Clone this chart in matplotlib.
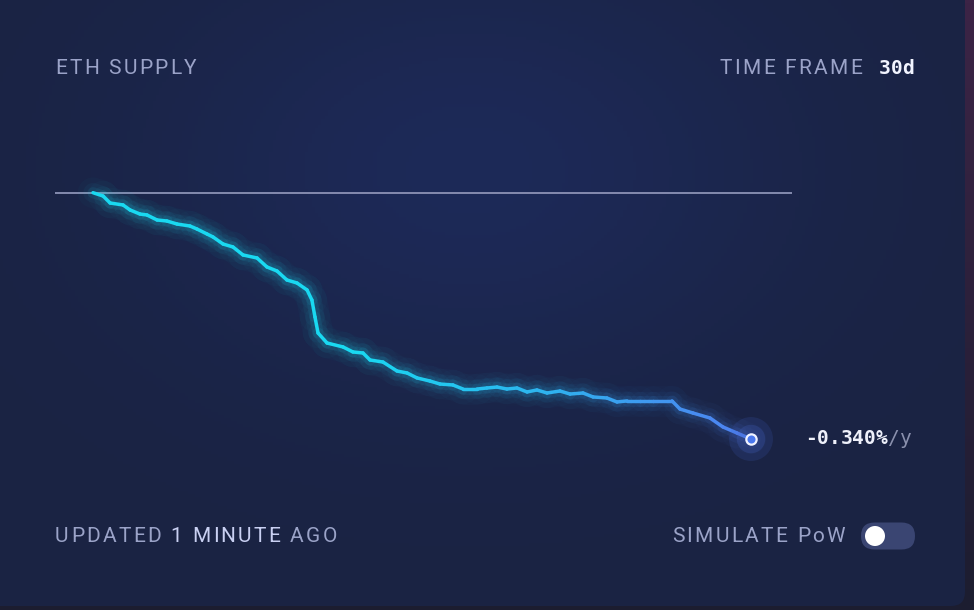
import numpy as np
import matplotlib
matplotlib.use("Agg")
import matplotlib.pyplot as plt
from matplotlib.collections import LineCollection
from matplotlib.patches import FancyBboxPatch, Circle
from matplotlib.font_manager import FontProperties
from matplotlib.colors import to_rgb

# ---------------- data ----------------
days = [0.00, 0.46, 0.78, 1.37, 1.69, 2.14, 2.46, 2.92, 3.37, 3.83, 4.42, 4.74,
        5.20, 5.47, 5.93, 6.38, 6.84, 7.48, 7.93, 8.39, 8.84, 9.30, 9.76, 9.98,
        10.12, 10.26, 10.67, 11.40, 11.85, 12.31, 12.63, 13.22, 13.86, 14.32,
        14.77, 15.36, 15.82, 16.41, 16.87, 17.51, 17.96, 18.42, 18.87, 19.33,
        19.79, 20.24, 20.70, 21.29, 21.75, 22.34, 22.80, 23.43, 23.89, 24.35,
        24.94, 25.53, 26.40, 26.76, 27.35, 28.13, 28.72, 29.36, 30.00]
supply_change = [0, -450, -1400, -1670, -2350, -2900, -3030, -3710, -3850, -4260,
                 -4530, -4940, -5620, -6020, -6980, -7380, -8470, -8880, -10100,
                 -10650, -11870, -12280, -13230, -14590, -16900, -19080, -20440,
                 -20980, -21660, -21800, -22750, -23030, -24250, -24520, -25190,
                 -25610, -26020, -26150, -26700, -26700, -26560, -26430, -26700,
                 -26560, -27100, -26830, -27240, -26970, -27380, -27240, -27780,
                 -27920, -28460, -28320, -28320, -28320, -28320, -29420, -29960,
                 -30640, -31860, -32680, -33500]
baseline_value = 0
baseline_range = [-1.73, 31.87]

title_text = "ETH SUPPLY"
timeframe_label = "TIME FRAME"
timeframe_value = "30d"
rate_value = "-0.340%"
rate_unit = "/y"
updated_parts = ["UPDATED ", "1 MINUTE", " AGO"]
simulate_label = "SIMULATE PoW"

# ---------------- figure ----------------
W, H = 974, 610
fig = plt.figure(figsize=(W / 100, H / 100), dpi=100)
fig.patch.set_facecolor("#1c1a2c")

bg = fig.add_axes([0, 0, 1, 1])
bg.set_xlim(0, W)
bg.set_ylim(H, 0)
bg.axis("off")

# outside region (purple strip at right)
yy = np.linspace(0, 1, 200)[:, None]
outside = np.zeros((200, 2, 3))
top = np.array(to_rgb("#3c2446"))
bot = np.array(to_rgb("#1c1d30"))
for i in range(3):
    outside[:, :, i] = top[i] * (1 - yy) + bot[i] * yy
bg.imshow(outside, extent=[0, W, H, 0], aspect="auto", zorder=0)

card = FancyBboxPatch((-30, -30), 995, 636, boxstyle="round,pad=0,rounding_size=14",
                      facecolor="#1a2343", edgecolor="none", zorder=1)
bg.add_patch(card)

# soft radial glow
gx, gy = np.meshgrid(np.linspace(0, W, 300), np.linspace(0, H, 200))
alpha = 0.6 * np.exp(-((gx - 470) / 320) ** 2 - ((gy - 170) / 220) ** 2)
glow = np.zeros((200, 300, 4))
glow[..., :3] = to_rgb("#1f2e66")
glow[..., 3] = alpha
im = bg.imshow(glow, extent=[0, W, H, 0], aspect="auto", zorder=2)
im.set_clip_path(card)

renderer = fig.canvas.get_renderer()


def char_w(ch, fp):
    w1, _, _ = renderer.get_text_width_height_descent("|" + ch + "|", fp, ismath=False)
    w0, _, _ = renderer.get_text_width_height_descent("||", fp, ismath=False)
    return w1 - w0


def spaced(x, y, s, size, color, spacing, family="Roboto", weight="normal"):
    fp = FontProperties(family=family, size=size, weight=weight)
    cx = x
    for ch in s:
        if ch != " ":
            bg.text(cx, y, ch, fontproperties=fp, color=color, va="center",
                    ha="left", zorder=10)
        cx += char_w(ch, fp) + spacing
    return cx


def spaced_width(s, size, spacing, family="Roboto", weight="normal"):
    fp = FontProperties(family=family, size=size, weight=weight)
    return sum(char_w(c, fp) + spacing for c in s) - spacing


label_col = "#9ba3c8"
LS = 15
SP = 2.3

spaced(55, 68, title_text, LS, label_col, SP)

mono = "DejaVu Sans Mono"
MS = 14
tf_w = spaced_width(timeframe_value, MS, 0, family=mono, weight="bold")
spaced(914 - tf_w, 68, timeframe_value, MS, "#f2f4ff", 0, family=mono, weight="bold")
tl_w = spaced_width(timeframe_label, LS, SP)
spaced(862 - tl_w, 68, timeframe_label, LS, label_col, SP)

x = spaced(805, 438, rate_value, MS, "#eef0fa", 0, family=mono, weight="bold")
spaced(x, 438, rate_unit, MS, "#8a90ad", 0, family=mono)

x = 55
cols = [label_col, "#c9d0f2", label_col]
for part, c in zip(updated_parts, cols):
    x = spaced(x, 536, part, LS, c, SP)

sw = spaced_width(simulate_label, LS, SP)
spaced(845 - sw, 536, simulate_label, LS, label_col, SP)

pill = FancyBboxPatch((861, 522.5), 54, 27, boxstyle="round,pad=0,rounding_size=13.5",
                      facecolor="#3a4572", edgecolor="none", zorder=5)
bg.add_patch(pill)
bg.add_patch(Circle((875, 536), 10, facecolor="white", edgecolor="none", zorder=6))

# ---------------- chart ----------------
ax = fig.add_axes([0, 0, 1, 1])
ax.patch.set_alpha(0)
ax.axis("off")
ax.set_xlim(-93 * 30 / 658, 881 * 30 / 658)
ax.set_ylim(-(610 - 192.7) * 136, 192.7 * 136)

ax.plot(baseline_range, [baseline_value, baseline_value], color="#8d93b6", lw=1.3,
        zorder=3, solid_capstyle="butt")

xs = np.array(days)
ys = np.array(supply_change)
pts = np.column_stack([xs, ys]).reshape(-1, 1, 2)
segs = np.concatenate([pts[:-1], pts[1:]], axis=1)
t = (xs[:-1] + xs[1:]) / 2 / xs[-1]
c0 = np.array(to_rgb("#19d9f1"))
c1 = np.array(to_rgb("#2fb2ef"))
c2 = np.array(to_rgb("#507ff1"))
cols = []
for tv in t:
    if tv < 0.4:
        cols.append(c0)
    elif tv < 0.7:
        f = (tv - 0.4) / 0.3
        cols.append(c0 * (1 - f) + c1 * f)
    else:
        f = (tv - 0.7) / 0.3
        cols.append(c1 * (1 - f) + c2 * f)
cols = np.array(cols)

for lw, a in [(22, 0.025), (14, 0.045), (8, 0.08)]:
    rgba = np.column_stack([cols, np.full(len(cols), a)])
    lc = LineCollection(segs, colors=rgba, linewidths=lw, capstyle="round",
                        joinstyle="round", zorder=4)
    ax.add_collection(lc)
lc = LineCollection(segs, colors=cols, linewidths=2.5, capstyle="round",
                    joinstyle="round", zorder=5)
ax.add_collection(lc)

ex, ey = days[-1], supply_change[-1]
ax.scatter([ex], [ey], s=1000, color="#3f5fc0", alpha=0.18, edgecolors="none", zorder=6)
ax.scatter([ex], [ey], s=420, color="#4a6ad0", alpha=0.22, edgecolors="none", zorder=6)
ax.scatter([ex], [ey], s=55, color="#4b78ee", edgecolors="#f0f2ff", linewidths=1.6, zorder=7)

fig.savefig("out.png", dpi=100, facecolor=fig.get_facecolor())
